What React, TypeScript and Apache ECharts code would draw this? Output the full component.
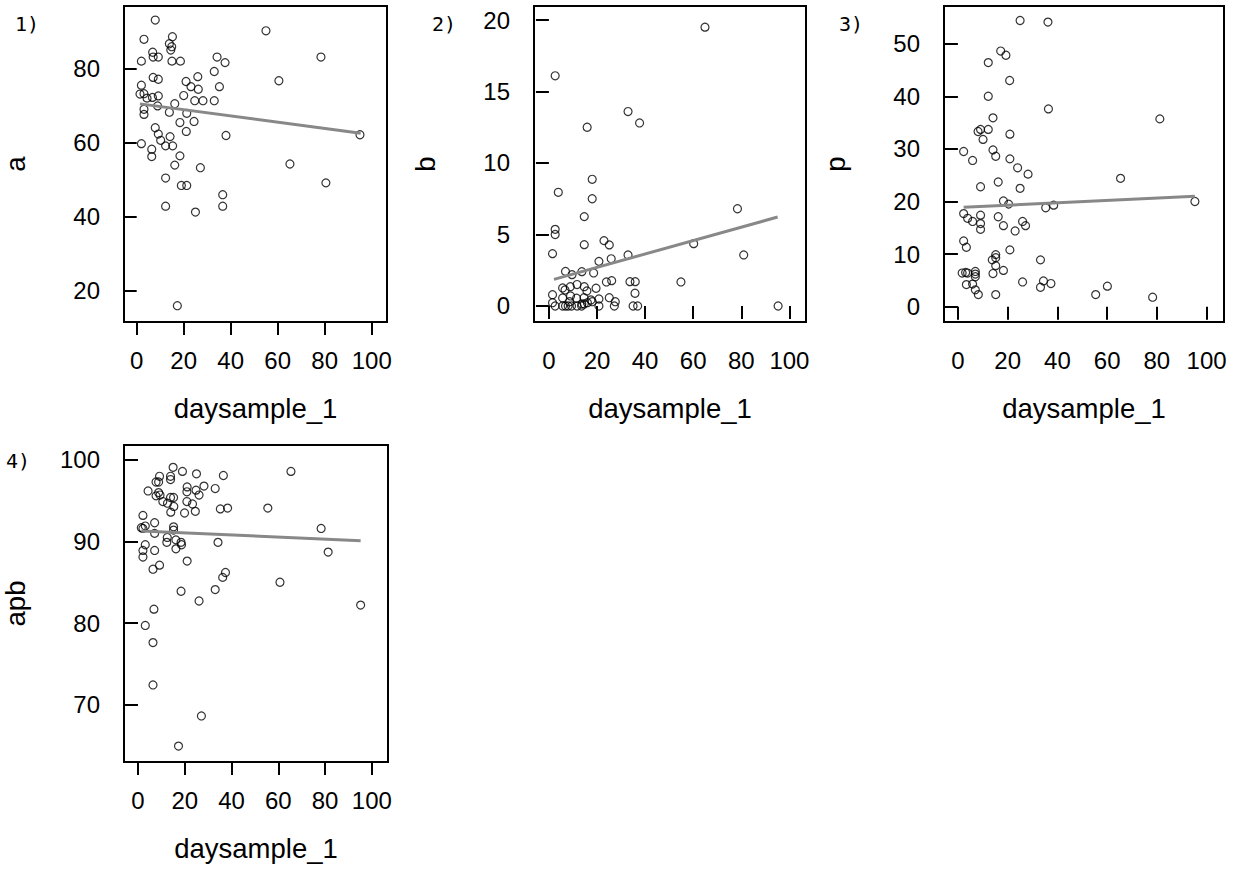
import React, { useEffect, useRef } from "react";
import * as echarts from "echarts";

const xTicks = [0, 20, 40, 60, 80, 100];
const xTitle = "daysample_1";

// Panel 1: a
const aDays = [7.9,3.1,15.2,13.9,14.9,14.5,6.8,7.0,9.2,2.0,15.0,18.6,34.2,37.6,33.0,26.0,21.0,23.1,26.2,35.2,7.0,9.2,2.0,1.4,3.1,4.4,6.7,9.2,20.0,24.7,28.2,33.0,16.2,8.9,3.1,3.1,13.9,21.3,18.4,24.4,21.1,7.9,9.2,38.0,2.0,10.2,12.3,14.2,15.3,6.4,6.4,18.4,16.2,27.1,12.3,19.0,21.3,36.6,36.6,12.3,25.0,17.3,55.0,60.5,65.2,78.4,80.5,95.0];
const aValues = [93.2,88.0,88.7,86.8,86.0,85.1,84.5,83.2,83.2,82.1,82.1,82.1,83.2,81.7,79.3,77.9,76.6,75.2,74.5,75.2,77.7,77.2,75.6,73.2,73.3,72.1,72.3,72.7,72.8,71.4,71.4,71.4,70.6,70.0,69.1,67.7,68.3,68.0,65.5,65.8,63.1,64.1,62.4,62.0,59.8,60.7,59.2,61.7,59.2,58.3,56.3,56.5,54.0,53.3,50.5,48.5,48.5,46.0,42.9,42.9,41.3,16.0,90.3,76.8,54.3,83.2,49.2,62.2];
const aTicks = [20, 40, 60, 80];
const aFitX = [1.4, 95.3];
const aFitY = [70.55, 62.6];

// Panel 2: b
const bDays = [64.9,2.6,32.9,37.7,15.9,18.0,3.9,18.0,14.7,78.4,2.6,2.6,1.5,14.7,22.9,25.1,25.9,32.9,60.2,81.0,20.8,6.9,9.6,13.7,18.6,54.9,23.9,26.1,33.7,35.9,35.8,95.3,35.0,36.9,27.2,27.6,20.8,20.8,25.1,19.6,1.5,1.5,2.6,5.7,6.7,8.9,11.7,14.7,15.8,9.0,5.7,11.5,14.6,17.5,16.0,13.7,5.7,6.9,8.0,9.4,11.7,13.6,14.7,18.0,8.6];
const bValues = [19.5,16.1,13.6,12.8,12.5,8.86,7.95,7.5,6.25,6.8,5.36,5.0,3.66,4.29,4.57,4.27,3.3,3.57,4.36,3.57,3.12,2.42,2.19,2.4,2.31,1.68,1.68,1.77,1.7,1.7,0.89,0,0,0,0,0.3,0,0.49,0.58,1.24,0.79,0.23,0,1.26,1.12,1.35,1.5,1.35,1.05,0.7,0.56,0.54,0.58,0.42,0.23,0.14,0,0,0,0,0,0,0.14,0.3,0.3];
const bTicks = [0, 5, 10, 15, 20];
const bFitX = [2.1, 95.1];
const bFitY = [1.86, 6.22];

// Panel 3: p
const pDays = [25.0,36.2,17.2,19.3,12.2,20.8,12.2,36.4,81.2,14.1,9.1,8.1,12.2,10.1,20.9,2.3,14.1,15.2,5.9,20.9,24.0,28.2,65.4,16.2,9.1,25.0,18.3,20.4,95.3,35.3,38.5,2.3,3.9,5.9,9.1,9.1,9.1,16.2,18.3,23.0,26.0,27.2,2.3,3.4,20.9,15.2,15.2,13.8,33.2,15.2,18.3,14.1,1.7,3.1,3.9,7.0,7.0,7.0,26.0,34.4,37.4,33.2,3.4,5.9,7.0,8.2,15.2,55.4,60.1,78.3];
const pValues = [54.4,54.1,48.6,47.8,46.4,43.0,40.0,37.6,35.7,35.9,33.7,33.3,33.7,31.8,32.8,29.5,29.8,28.6,27.8,28.1,26.4,25.2,24.4,23.7,22.8,22.5,20.1,19.5,20.0,18.8,19.3,17.7,16.8,16.2,17.4,15.8,14.7,17.1,15.4,14.4,16.2,15.4,12.5,11.3,10.8,9.9,9.3,8.9,8.9,7.8,6.9,6.3,6.4,6.5,6.4,6.7,6.2,5.7,4.7,4.9,4.4,3.7,4.2,4.3,3.2,2.3,2.3,2.3,3.9,1.8];
const pTicks = [0, 10, 20, 30, 40, 50];
const pFitX = [2.3, 95.3];
const pFitY = [18.9, 21.0];

// Panel 4: apb
const apbDays = [15.0,19.0,25.0,36.5,65.4,9.2,13.9,13.9,7.7,8.8,28.2,21.0,33.0,24.8,4.3,20.9,26.1,8.8,7.7,9.4,13.9,15.2,10.6,12.6,20.9,23.3,15.3,35.2,38.3,55.5,14.0,24.5,19.9,2.1,7.1,3.1,1.4,2.1,15.2,15.2,78.3,7.1,12.5,12.3,16.2,34.2,18.4,18.6,3.1,16.2,7.1,2.1,2.1,81.3,9.2,21.0,6.4,37.4,36.2,60.7,33.0,18.4,26.1,95.2,6.8,3.1,6.4,6.4,27.1,17.3];
const apbValues = [99.1,98.6,98.3,98.1,98.6,98.0,98.0,97.6,97.3,97.3,96.8,96.7,96.5,96.3,96.2,96.1,95.7,96.0,95.6,95.7,95.4,95.4,94.9,94.7,94.9,94.6,94.3,94.0,94.1,94.1,93.6,93.7,93.5,93.2,92.3,91.9,91.7,91.6,91.8,91.4,91.6,91.0,90.5,89.9,90.2,89.9,89.9,89.6,89.6,89.1,88.9,88.9,88.1,88.7,87.1,87.6,86.6,86.2,85.6,85.0,84.1,83.9,82.7,82.2,81.7,79.7,77.6,72.4,68.6,64.9];
const apbTicks = [70, 80, 90, 100];
const apbFitX = [1.4, 95.2];
const apbFitY = [91.28, 90.1];

const panelLabels = ["1)", "2)", "3)", "4)"];
const yNames = ["a", "b", "p", "apb"];

const FONT = "Liberation Sans, Arial, Helvetica, sans-serif";

export default function App() {
  const ref = useRef<HTMLDivElement>(null);
  useEffect(() => {
    if (!ref.current) return;
    const chart = echarts.init(ref.current, null, { renderer: "svg" });

    const panels = [
      { xs: aDays, ys: aValues, ticks: aTicks, fx: aFitX, fy: aFitY,
        grid: { left: 124, top: 6, width: 263, height: 316 },
        xr: [-5.4, 106.5], yr: [11.6, 97.0], label: [15, 24] },
      { xs: bDays, ys: bValues, ticks: bTicks, fx: bFitX, fy: bFitY,
        grid: { left: 534, top: 6, width: 272, height: 316 },
        xr: [-6.2, 106.9], yr: [-1.12, 20.98], label: [432, 24] },
      { xs: pDays, ys: pValues, ticks: pTicks, fx: pFitX, fy: pFitY,
        grid: { left: 944, top: 6, width: 280, height: 316 },
        xr: [-5.6, 107.0], yr: [-2.91, 57.16], label: [839, 24] },
      { xs: apbDays, ys: apbValues, ticks: apbTicks, fx: apbFitX, fy: apbFitY,
        grid: { left: 123, top: 445, width: 265, height: 317 },
        xr: [-6.0, 106.9], yr: [62.95, 101.84], label: [6, 461] },
    ];

    const tickStyle = { show: true, inside: false, length: 13, lineStyle: { color: "#000", width: 2 } };
    const labelStyle = { color: "#000", fontSize: 24, fontFamily: FONT, hideOverlap: false };
    const nameStyle = { color: "#000", fontSize: 27.5, fontFamily: FONT };

    const option: any = {
      animation: false,
      backgroundColor: "#fff",
      grid: panels.map((p) => ({ ...p.grid, show: true, borderColor: "#000", borderWidth: 2, backgroundColor: "transparent", containLabel: false })),
      xAxis: panels.map((p, i) => ({
        type: "value", gridIndex: i, min: p.xr[0], max: p.xr[1],
        axisLine: { show: false },
        axisTick: { ...tickStyle, customValues: xTicks },
        axisLabel: { ...labelStyle, margin: 26, customValues: xTicks },
        splitLine: { show: false },
        name: xTitle, nameLocation: "middle", nameGap: 72, nameTextStyle: nameStyle,
      })),
      yAxis: panels.map((p, i) => ({
        type: "value", gridIndex: i, min: p.yr[0], max: p.yr[1],
        axisLine: { show: false },
        axisTick: { ...tickStyle, customValues: p.ticks },
        axisLabel: { ...labelStyle, margin: 24, customValues: p.ticks },
        splitLine: { show: false },
        name: yNames[i], nameLocation: "middle", nameGap: 95, nameRotate: 90, nameTextStyle: nameStyle,
      })),
      series: panels.flatMap((p, i) => [
        {
          type: "scatter", xAxisIndex: i, yAxisIndex: i,
          data: p.xs.map((x, k) => [x, p.ys[k]]),
          symbol: "circle", symbolSize: 8,
          itemStyle: { color: "transparent", borderColor: "#000", borderWidth: 1.2 },
          emphasis: { disabled: true }, silent: true,
        },
        {
          type: "line", xAxisIndex: i, yAxisIndex: i,
          data: p.fx.map((x, k) => [x, p.fy[k]]),
          showSymbol: false, symbol: "none",
          lineStyle: { color: "#888", width: 3 },
          emphasis: { disabled: true }, silent: true,
        },
      ]),
      graphic: panels.map((p, i) => ({
        type: "text", x: p.label[0], y: p.label[1],
        style: { text: panelLabels[i], fill: "#000", fontSize: 20, fontFamily: "DejaVu Sans Mono, monospace", textVerticalAlign: "middle" },
      })),
    };
    chart.setOption(option);
    return () => chart.dispose();
  }, []);

  return <div ref={ref} style={{ position: "absolute", left: 0, top: 0, width: 1241, height: 869 }} />;
}
